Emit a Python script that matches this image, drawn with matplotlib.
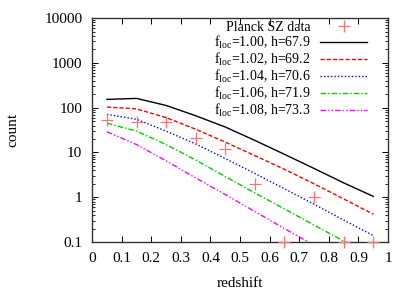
import matplotlib
matplotlib.use("Agg")
import matplotlib.pyplot as plt
import numpy as np

plt.rcParams['font.family'] = ['Liberation Serif', 'DejaVu Serif']
plt.rcParams['mathtext.fontset'] = 'custom'
plt.rcParams['mathtext.rm'] = 'Liberation Serif'
plt.rcParams['font.size'] = 11

# redshift bins (centres)
z = [0.05, 0.15, 0.25, 0.35, 0.45, 0.55, 0.65, 0.75, 0.85, 0.95]

# Planck SZ counts (0.1 = empty bin, drawn at the bottom axis)
z_data = [0.05, 0.15, 0.25, 0.35, 0.45, 0.55, 0.65, 0.75, 0.85, 0.95]
n_data = [52, 48, 48, 21, 12, 2, 0.1, 1, 0.1, 0.1]

# model predictions
n_100 = [153, 161, 112, 66, 37, 18.6, 9.1, 4.4, 2.1, 1.05]
n_102 = [103, 94, 60, 33, 17, 8.5, 4.2, 2.0, 0.92, 0.42]
n_104 = [71, 55, 30, 15.5, 7.3, 3.4, 1.55, 0.7, 0.31, 0.14]
n_106 = [45, 30, 15, 6.8, 2.9, 1.25, 0.55, 0.24, 0.105, 0.046]
n_108 = [29, 15, 6.5, 2.7, 1.15, 0.48, 0.2, 0.085, 0.036, 0.015]

labels = [r'f$_{\rm loc}$=1.00, h=67.9',
          r'f$_{\rm loc}$=1.02, h=69.2',
          r'f$_{\rm loc}$=1.04, h=70.6',
          r'f$_{\rm loc}$=1.06, h=71.9',
          r'f$_{\rm loc}$=1.08, h=73.3']

fig = plt.figure(figsize=(4.15, 2.91), dpi=100)
ax = fig.add_axes([0.222, 0.168, 0.713, 0.770])

ax.plot(z_data, n_data, '+', color='#ff7070', ms=8, mew=0.9,
        clip_on=False, label='Planck SZ data', zorder=5)
ax.plot(z, n_100, color='black', lw=1.0, label=labels[0])
ax.plot(z, n_102, color='#ff0000', lw=1.0, ls=(0, (3, 1.5)), label=labels[1])
ax.plot(z, n_104, color='#0000ff', lw=1.0, ls=(0, (1, 1.5)), label=labels[2])
ax.plot(z, n_106, color='#00cc00', lw=1.0, ls=(0, (4, 1.5, 1, 1.5)), label=labels[3])
ax.plot(z, n_108, color='#ff00ff', lw=1.0, ls=(0, (4, 1.5, 1, 1.5, 1, 1.5)), label=labels[4])

ax.set_yscale('log')
ax.set_xlim(0, 1)
ax.set_ylim(0.1, 10000)
ax.set_xticks(np.arange(0, 1.01, 0.1))
ax.set_xticklabels(['0', '0.1', '0.2', '0.3', '0.4', '0.5', '0.6', '0.7', '0.8', '0.9', '1'])
ax.set_yticks([0.1, 1, 10, 100, 1000, 10000])
ax.set_yticklabels(['0.1', '1', '10', '100', '1000', '10000'])
ax.tick_params(which='both', direction='in', top=True, right=True)
ax.tick_params(which='major', length=4, width=0.7, pad=7)
ax.tick_params(which='minor', length=2, width=0.6)
for s in ax.spines.values():
    s.set_linewidth(1.0)
    s.set_color('#333333')

ax.set_xlabel('redshift', labelpad=9)
ax.set_ylabel('count', labelpad=18)

leg = ax.legend(loc='upper right', frameon=False, markerfirst=False, fontsize=10,
                handlelength=3.4, handletextpad=0.7, labelspacing=-0.02,
                borderaxespad=0.0, borderpad=0.2, bbox_to_anchor=(0.94, 1.0))

fig.savefig('out.png', dpi=100)
